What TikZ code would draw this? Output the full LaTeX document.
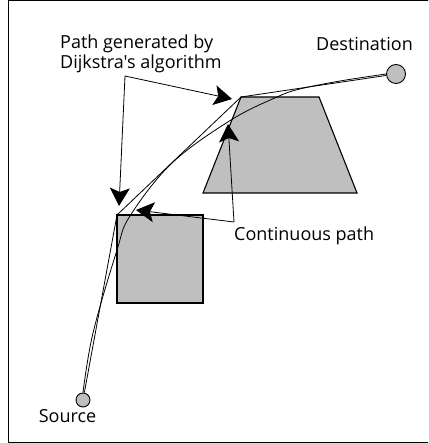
\documentclass[tikz,border=0pt]{standalone}
\usepackage{fontspec}
\setmainfont{Open Sans}[Ligatures=TeXOff]
\usetikzlibrary{arrows.meta}
\tikzset{
  obstacle/.style={draw=black, line width=1.1pt, fill=black!25},
  waypoint/.style={circle, draw=black, line width=0.9pt, fill=black!25, inner sep=0pt},
  route/.style={draw=black, line width=0.8pt},
  pointer/.style={draw=black, line width=0.8pt, -{Stealth[length=18pt, width=20pt, inset=4pt]}},
  caption/.style={font=\fontsize{18}{20}\selectfont, inner sep=0pt, align=left}
}
\begin{document}
\begin{tikzpicture}[x=1pt, y=-1pt]
  \useasboundingbox (0,0) rectangle (428,443);
  % outer frame, open past the right edge
  \begin{scope}
    \clip (0,0) rectangle (428,443);
    \draw[line width=1pt] (8.5,1) rectangle (440,442);
  \end{scope}

  % obstacles
  \draw[obstacle] (241,97) -- (319,97) -- (357,193) -- (203,193) -- cycle;
  \draw[obstacle] (117,215) rectangle (203,303);

  % start and goal
  \node[waypoint, minimum size=14pt] (src) at (83,400) {};
  \node[waypoint, minimum size=19pt] (dst) at (396,74) {};
  \coordinate (sq) at (117,215);
  \coordinate (tr) at (241,97);

  % shortest path on the visibility graph
  \draw[route] (src) -- (sq) -- (tr) -- (dst);
  % smoothed path
  \draw[route] plot[smooth, tension=0.6] coordinates {
    (src.north) (93,333) (117,250) (130,216) (172,163) (231,120)
    (277,97) (300,89) (340,81) (dst.west)};

  % labels
  \node[caption, anchor=north west] (dlabel) at (60,34.5) {Path generated by\\Dijkstra's algorithm};
  \node[caption, anchor=base] (dname) at (364.5,50.5) {Destination};
  \node[caption, anchor=base] (sname) at (67.5,422) {Source};
  \node[caption, anchor=base west] (cname) at (234,240.5) {Continuous path};

  % label pointers
  \coordinate (dfork) at (125,76);
  \draw[pointer] (dfork) -- (232,99);
  \draw[pointer] (dfork) -- (119,206);
  \coordinate (cfork) at (234,222);
  \draw[pointer] (cfork) -- (228,124);
  \draw[pointer] (cfork) -- (136,210);
\end{tikzpicture}
\end{document}
